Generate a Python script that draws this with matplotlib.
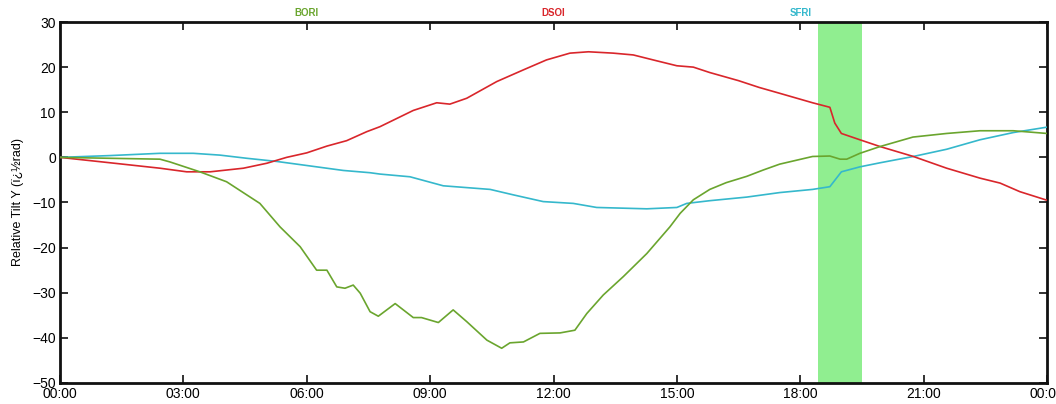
import matplotlib
matplotlib.use("Agg")
import matplotlib.pyplot as plt
import matplotlib.transforms as mtransforms

# Data (hours since 00:00, tilt in microradians)
bori_t = [0, 1.2, 2.43, 2.67, 3.4, 4.05, 4.86, 5.35, 5.84, 6.24, 6.49, 6.73, 6.93, 7.13, 7.3, 7.54, 7.74,
          8.15, 8.59, 8.79, 9.2, 9.56, 9.89, 10.38, 10.74, 10.94, 11.27, 11.67, 12.16, 12.52, 12.81,
          13.21, 13.7, 14.27, 14.83, 15.08, 15.4, 15.8, 16.2, 16.7, 17.1, 17.5, 18.3, 18.72, 18.97,
          19.13, 19.45, 19.94, 20.74, 21.56, 22.37, 23.18, 24.0]
bori_v = [0, -0.2, -0.4, -1.0, -3.2, -5.4, -10.2, -15.4, -19.8, -25.0, -25.0, -28.7, -29.0, -28.3, -30.1,
          -34.2, -35.2, -32.4, -35.5, -35.5, -36.6, -33.8, -36.4, -40.5, -42.3, -41.1, -40.9, -39.0,
          -38.9, -38.3, -34.6, -30.5, -26.4, -21.3, -15.4, -12.4, -9.4, -7.1, -5.6, -4.2, -2.8, -1.5,
          0.2, 0.3, -0.4, -0.4, 0.9, 2.4, 4.5, 5.3, 5.9, 5.9, 5.3]

dsoi_t = [0, 1.22, 2.43, 3.08, 3.65, 4.46, 5.03, 5.51, 6.0, 6.49, 6.97, 7.46, 7.78, 8.59, 9.16, 9.48,
          9.89, 10.62, 11.27, 11.83, 12.4, 12.85, 13.45, 13.94, 14.51, 15.0, 15.4, 15.8, 16.5, 17.0,
          17.5, 18.3, 18.72, 18.84, 19.0, 19.45, 19.94, 20.75, 21.56, 22.37, 22.86, 23.34, 24.0]
dsoi_v = [0, -1.2, -2.4, -3.2, -3.2, -2.4, -1.3, 0.0, 1.0, 2.5, 3.7, 5.7, 6.8, 10.4, 12.1, 11.8,
          13.1, 16.8, 19.4, 21.6, 23.1, 23.4, 23.1, 22.7, 21.4, 20.3, 20.0, 18.8, 17.0, 15.5,
          14.2, 12.1, 11.1, 7.6, 5.3, 3.9, 2.4, 0.2, -2.4, -4.6, -5.7, -7.6, -9.5]

sfri_t = [0, 1.22, 2.43, 3.24, 3.89, 4.54, 5.27, 6.08, 6.89, 7.54, 7.78, 8.51, 9.32, 10.46, 11.02,
          11.75, 12.48, 13.05, 14.27, 15.0, 15.24, 15.8, 16.7, 17.5, 18.3, 18.72, 19.0, 19.45, 19.94,
          20.75, 21.56, 22.37, 23.18, 24.0]
sfri_v = [0, 0.4, 0.9, 0.9, 0.5, -0.2, -0.9, -1.9, -2.9, -3.4, -3.7, -4.3, -6.3, -7.1, -8.3,
          -9.8, -10.2, -11.1, -11.4, -11.1, -10.2, -9.6, -8.8, -7.8, -7.1, -6.5, -3.2, -2.1, -1.2,
          0.2, 1.8, 3.9, 5.5, 6.7]

station_names = ["BORI", "DSOI", "SFRI"]
station_label_hours = [6, 12, 18]
band_start, band_end = 18.43, 19.5

xtick_hours = [0, 3, 6, 9, 12, 15, 18, 21, 24]
xtick_labels = ["00:00", "03:00", "06:00", "09:00", "12:00", "15:00", "18:00", "21:00", "00:00"]
ytick_values = [-50, -40, -30, -20, -10, 0, 10, 20, 30]

colors = {"BORI": "#6aa52e", "DSOI": "#d9262b", "SFRI": "#35b8cc"}

plt.rcParams['font.family'] = ['Liberation Sans', 'DejaVu Sans']

fig = plt.figure(figsize=(10.56, 4.04), dpi=100)
ax = fig.add_axes([60 / 1056, 1 - 383 / 404, (1047 - 60) / 1056, (383 - 22) / 404])

ax.axvspan(band_start, band_end, color="#90ee90", lw=0, zorder=1)
ax.plot(sfri_t, sfri_v, color=colors["SFRI"], lw=1.2, zorder=3)
ax.plot(dsoi_t, dsoi_v, color=colors["DSOI"], lw=1.2, zorder=3)
ax.plot(bori_t, bori_v, color=colors["BORI"], lw=1.2, zorder=3)

ax.set_xlim(0, 24)
ax.set_ylim(-50, 30)
ax.set_xticks(xtick_hours)
ax.set_xticklabels(xtick_labels)
ax.set_yticks(ytick_values)
ax.tick_params(direction="in", length=6, width=1.3, top=True, right=True,
               labelsize=10, color="#222222", pad=3)
for s in ax.spines.values():
    s.set_linewidth(2)
    s.set_color("#111111")

ax.set_ylabel("Relative Tilt Y (ï¿½rad)", fontsize=9, labelpad=6)

trans = mtransforms.blended_transform_factory(ax.transData, ax.transAxes)
for name, h in zip(station_names, station_label_hours):
    ax.text(h, 1.012, name, transform=trans, ha="center", va="bottom",
            fontsize=7, fontweight="bold", color=colors[name])

fig.savefig("out.png", dpi=100)
